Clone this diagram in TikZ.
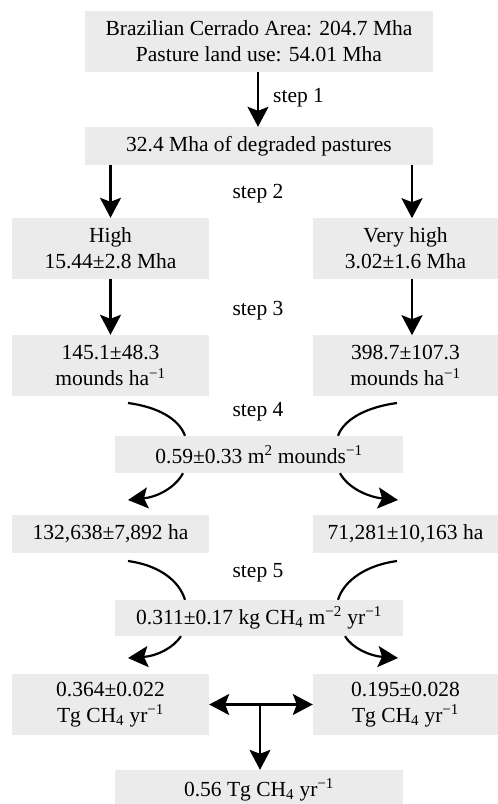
\documentclass[tikz,border=0pt]{standalone}
\usepackage{fontspec}
\setmainfont{Liberation Serif}
\usetikzlibrary{arrows.meta}
\definecolor{boxgray}{HTML}{EBEBEB}
\newcommand{\sm}[1]{\textsuperscript{#1}}
\newcommand{\lw}[1]{\textsubscript{#1}}
\tikzset{
  x=1pt, y=-1pt,
  box/.style={fill=boxgray, inner sep=0pt, align=center, font=\fontsize{21.5}{26}\selectfont},
  tip/.style={},
  arr/.style={line width=2.2pt, -{Stealth[length=20pt,width=21pt,inset=4pt]}},
  darr/.style={line width=2.2pt, {Stealth[length=20pt,width=21pt,inset=4pt]}-{Stealth[length=20pt,width=21pt,inset=4pt]}},
  curv/.style={line width=2.2pt},
  lab/.style={font=\fontsize{21.5}{26}\selectfont, inner sep=0pt}
}
\begin{document}
\begin{tikzpicture}
\useasboundingbox (0,0) rectangle (498,804);
\node[box, minimum width=348, minimum height=61] (top) at (259,41.5) {Brazilian Cerrado Area: 204.7 Mha\\Pasture land use: 54.01 Mha};
\node[box, minimum width=348, minimum height=38] (deg) at (259,146) {32.4 Mha of degraded pastures};
\node[box, minimum width=197, minimum height=61] (high) at (110.5,248.5) {High\\15.44±2.8 Mha};
\node[box, minimum width=185, minimum height=61] (vhigh) at (405.5,248.5) {Very high\\3.02±1.6 Mha};
\node[box, minimum width=197, minimum height=61] (mL) at (110.5,365.5) {145.1±48.3\\mounds ha\sm{−1}};
\node[box, minimum width=185, minimum height=61] (mR) at (405.5,365.5) {398.7±107.3\\mounds ha\sm{−1}};
\node[box, minimum width=288, minimum height=37] (area) at (259,454.5) {0.59±0.33 m\sm{2} mounds\sm{−1}};
\node[box, minimum width=197, minimum height=38] (haL) at (110.5,534) {132,638±7,892 ha};
\node[box, minimum width=185, minimum height=38] (haR) at (405.5,534) {71,281±10,163 ha};
\node[box, minimum width=288, minimum height=36] (flux) at (259,618) {0.311±0.17 kg CH\lw{4} m\sm{−2} yr\sm{−1}};
\node[box, minimum width=197, minimum height=61] (tgL) at (110.5,704.5) {0.364±0.022\\Tg CH\lw{4} yr\sm{−1}};
\node[box, minimum width=185, minimum height=61] (tgR) at (405.5,704.5) {0.195±0.028\\Tg CH\lw{4} yr\sm{−1}};
\node[box, minimum width=288, minimum height=40] (tot) at (259,790) {0.56 Tg CH\lw{4} yr\sm{−1}};

\node[lab, anchor=west] (s1) at (273,98) {step 1};
\node[lab] (s2) at (258,194) {step 2};
\node[lab] (s3) at (258,311) {step 3};
\node[lab] (s4) at (258,412) {step 4};
\node[lab] (s5) at (258,573) {step 5};

\draw[arr] (top.south -| 258,0) -- (deg.north -| 258,0);
\draw[arr] (deg.south -| high) -- (high.north);
\draw[arr] (deg.south -| vhigh.north) ++(6.5,0) -- ++(0,53);
\draw[arr] (high.south) -- (mL.north);
\draw[arr] (vhigh.south) ++(6.5,0) -- ++(0,56);

\coordinate (c4l) at (128,403);
\coordinate (c4r) at (397,403);
\coordinate (c4lt) at (128,500);
\coordinate (c4rt) at (398,500);
\draw[curv] (c4l) .. controls (158,407) and (179,419) .. (area.north -| 185,0);
\draw[curv] (c4r) .. controls (367,407) and (344,419) .. (area.north -| 338,0);
\draw[arr] (area.south -| 183,0) .. controls (175,488) and (157,497) .. (c4lt);
\draw[arr] (area.south -| 340,0) .. controls (348,488) and (368,497) .. (c4rt);

\coordinate (c5l) at (128,561);
\coordinate (c5r) at (397,561);
\coordinate (c5lt) at (128,658);
\coordinate (c5rt) at (398,658);
\draw[curv] (c5l) .. controls (158,565) and (179,580) .. (flux.north -| 185,0);
\draw[curv] (c5r) .. controls (367,565) and (344,580) .. (flux.north -| 338,0);
\draw[arr] (flux.south -| 181,0) .. controls (173,648) and (157,656) .. (c5lt);
\draw[arr] (flux.south -| 345,0) .. controls (352,648) and (370,656) .. (c5rt);

\draw[darr] (tgL.east) -- (tgR.west);
\coordinate (mid) at (260,704.5);
\draw[arr] (mid) -- (tot.north -| mid);
\end{tikzpicture}
\end{document}
